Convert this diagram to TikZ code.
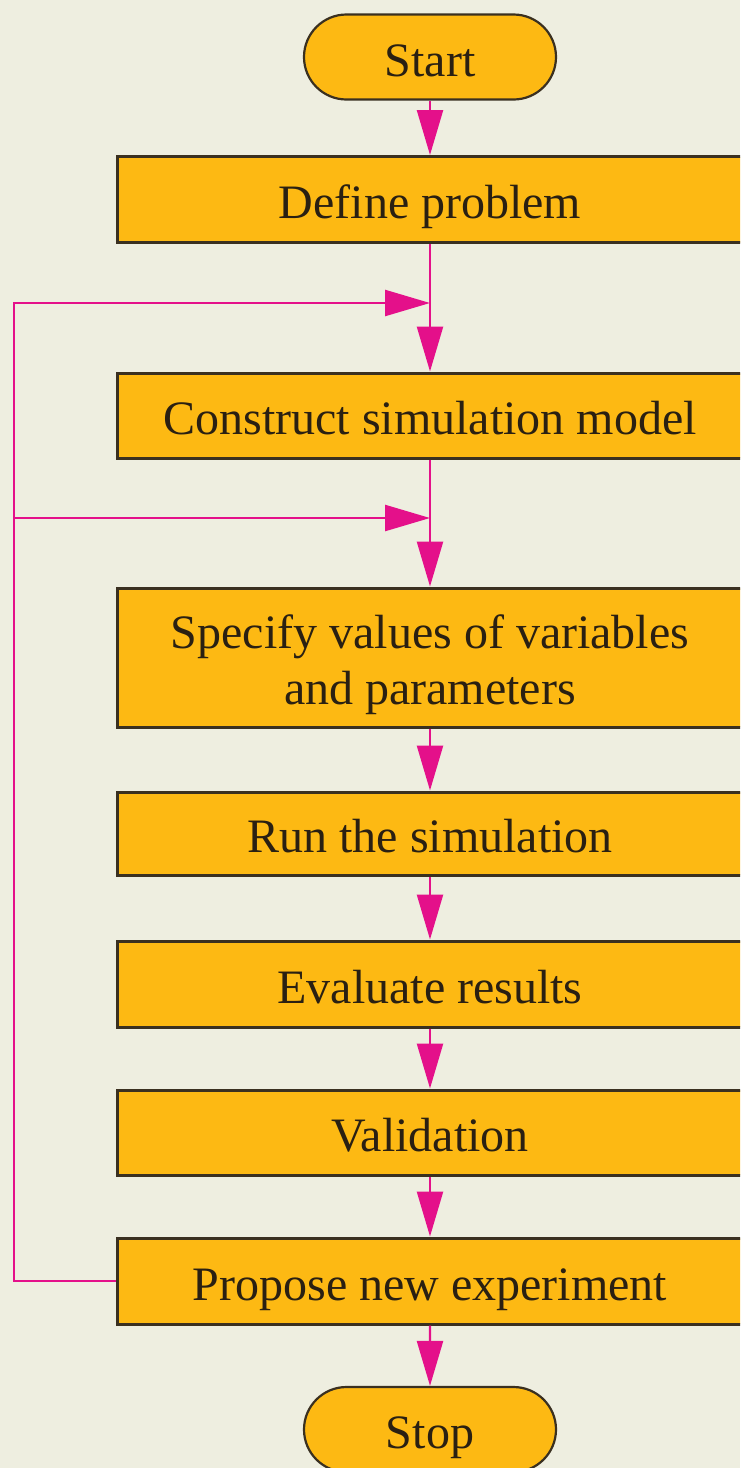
\documentclass[tikz,border=0pt]{standalone}
\usepackage{fontspec}
\setmainfont{Liberation Serif}
\usetikzlibrary{shapes.misc,arrows.meta}
\definecolor{paper}{HTML}{EEEEE0}
\definecolor{boxfill}{HTML}{FDB913}
\definecolor{boxline}{HTML}{3A3020}
\definecolor{flowpink}{HTML}{E4108A}
\definecolor{ink}{HTML}{2A2012}
\tikzset{
  stepbox/.style={draw=boxline, line width=3pt, fill=boxfill, rectangle,
    minimum width=626pt, inner sep=0pt, text=ink,
    font=\fontsize{48}{56}\selectfont, text height=38pt, text depth=0pt},
  terminal/.style={draw=boxline, line width=2.2pt, fill=boxfill, rounded rectangle,
    minimum width=252pt, minimum height=85pt, inner sep=0pt, text=ink,
    font=\fontsize{48}{56}\selectfont, text height=38pt, text depth=0pt},
  link/.style={draw=flowpink, line width=2.4pt},
  flow/.style={link, -{Triangle[length=45pt,width=26pt]}},
}
\begin{document}
\begin{tikzpicture}[x=1pt,y=-1pt]
  \fill[paper] (0,0) rectangle (740,1468);
  \useasboundingbox (0,0) rectangle (740,1468);
  \clip (0,0) rectangle (740,1468);

  % terminals and process boxes
  \node[terminal] (start) at (430,57) {Start};
  \node[stepbox, minimum height=86pt] (define) at (430,199.5) {Define problem};
  \node[stepbox, minimum height=85pt] (construct) at (430,415.5) {Construct simulation model};
  \node[stepbox, minimum height=139pt, align=center, text height=94pt] (specify) at (430,657.5)
    {Specify values of variables\\and parameters};
  \node[stepbox, minimum height=83pt] (run) at (430,833.5) {Run the simulation};
  \node[stepbox, minimum height=86pt] (evaluate) at (430,984) {Evaluate results};
  \node[stepbox, minimum height=85pt] (validate) at (430,1132.5) {Validation};
  \node[stepbox, minimum height=86pt] (propose) at (430,1281) {Propose new experiment};
  \node[terminal] (stop) at (430,1429.5) {Stop};

  % junctions where the feedback loop re-enters the main line
  \coordinate (j1) at (430,303);
  \coordinate (j2) at (430,518);
  \coordinate (loopx) at (14,0);

  % main sequence
  \draw[flow] (start) -- (define);
  \draw[flow] (define) -- (construct);
  \draw[flow] (construct) -- (specify);
  \draw[flow] (specify) -- (run);
  \draw[flow] (run) -- (evaluate);
  \draw[flow] (evaluate) -- (validate);
  \draw[flow] (validate) -- (propose);
  \draw[flow] (propose) -- (stop);

  % feedback from the new experiment
  \draw[flow] (propose.west) -- (loopx |- propose.west) |- (j1);
  \draw[flow] (loopx |- j2) -- (j2);
\end{tikzpicture}
\end{document}
